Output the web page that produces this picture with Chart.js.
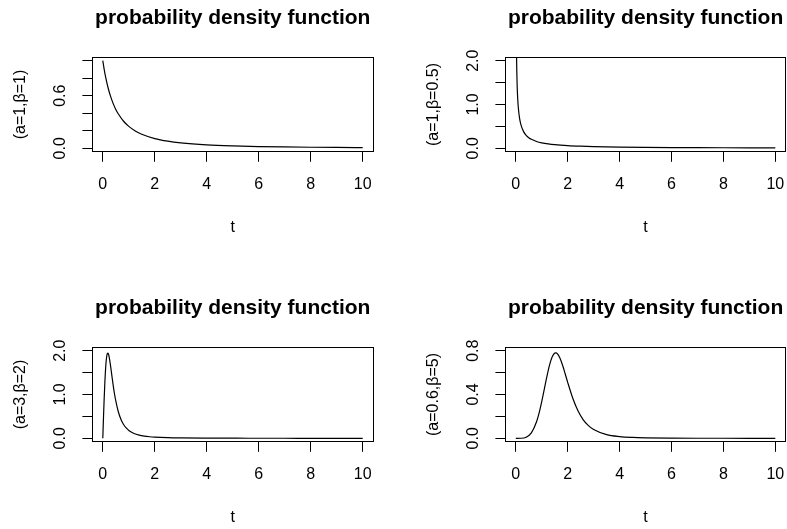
<!DOCTYPE html>
<html>
<head>
<meta charset="utf-8">
<script src="https://cdn.jsdelivr.net/npm/chart.js@4.4.1/dist/chart.umd.min.js"></script>
<style>
  html, body { margin: 0; padding: 0; background: #fff; overflow: hidden; }
  #wrap { position: relative; width: 787px; height: 529px; }
  canvas { position: absolute; }
</style>
</head>
<body>
<div id="wrap">
  <canvas id="chartPdf1" width="413" height="290" style="left:0px;top:0px"></canvas>
  <canvas id="chartPdf2" width="374" height="290" style="left:413px;top:0px"></canvas>
  <canvas id="chartPdf3" width="413" height="239" style="left:0px;top:290px"></canvas>
  <canvas id="chartPdf4" width="374" height="239" style="left:413px;top:290px"></canvas>
</div>
<script>
// values
var chartTitle = 'probability density function';
var xTitle = 't';
var xTicks = [0, 2, 4, 6, 8, 10];
var xTickLabels = ['0', '2', '4', '6', '8', '10'];

// (a=1, b=1)
var t1 = [0, 0.05, 0.1, 0.2, 0.3, 0.4, 0.5, 0.6, 0.8, 1, 1.25, 1.5, 2, 2.5, 3, 4, 5, 6, 7, 8, 9, 10];
var pdf1 = [1, 0.907, 0.826, 0.694, 0.592, 0.510, 0.444, 0.391, 0.309, 0.25, 0.198, 0.16, 0.111, 0.0816, 0.0625, 0.04, 0.0278, 0.0204, 0.0156, 0.0123, 0.01, 0.0083];
var yTicks1 = [0, 0.2, 0.4, 0.6, 0.8, 1.0];
var yTickLabels1 = ['0.0', '', '', '0.6', '', ''];

// (a=1, b=0.5)
var t2 = [0.01, 0.02, 0.03, 0.05, 0.075, 0.1, 0.15, 0.2, 0.3, 0.4, 0.5, 0.6, 0.8, 1, 1.25, 1.5, 2, 2.5, 3, 4, 5, 6, 7, 8, 9, 10];
var pdf2 = [4.132, 2.714, 2.097, 1.494, 1.125, 0.913, 0.671, 0.534, 0.381, 0.297, 0.243, 0.205, 0.156, 0.125, 0.0997, 0.0825, 0.0607, 0.0475, 0.0387, 0.0278, 0.0214, 0.0172, 0.0142, 0.0121, 0.0104, 0.0091];
var yTicks2 = [0, 0.5, 1, 1.5, 2];
var yTickLabels2 = ['0.0', '', '1.0', '', '2.0'];

// (a=3, b=2)
var t3 = [0, 0.01, 0.03, 0.05, 0.08, 0.1, 0.125, 0.15, 0.175, 0.2, 0.225, 0.25, 0.3, 0.35, 0.4, 0.45, 0.5, 0.6, 0.7, 0.8, 0.9, 1, 1.2, 1.4, 1.6, 1.8, 2, 2.5, 3, 4, 5, 6, 7, 8, 9, 10];
var pdf3 = [0, 0.180, 0.531, 0.861, 1.287, 1.515, 1.729, 1.867, 1.936, 1.946, 1.911, 1.843, 1.648, 1.425, 1.209, 1.017, 0.852, 0.601, 0.431, 0.315, 0.236, 0.18, 0.111, 0.0725, 0.0498, 0.0356, 0.0263, 0.0137, 0.008, 0.0034, 0.0018, 0.001, 0.0006, 0.0004, 0.0003, 0.0002];
var yTicks3 = [0, 0.5, 1, 1.5, 2];
var yTickLabels3 = ['0.0', '', '1.0', '', '2.0'];

// (a=0.6, b=5)
var t4 = [0, 0.2, 0.4, 0.6, 0.8, 0.9, 1, 1.1, 1.2, 1.3, 1.4, 1.5, 1.55, 1.6, 1.7, 1.8, 1.9, 2, 2.2, 2.4, 2.6, 2.8, 3, 3.5, 4, 4.5, 5, 6, 7, 8, 9, 10];
var pdf4 = [0, 0.0006, 0.0099, 0.0498, 0.151, 0.233, 0.335, 0.450, 0.566, 0.669, 0.743, 0.778, 0.780, 0.773, 0.733, 0.669, 0.592, 0.511, 0.363, 0.249, 0.169, 0.116, 0.0796, 0.0333, 0.0153, 0.0076, 0.0041, 0.0014, 0.0005, 0.0002, 0.0001, 0.0001];
var yTicks4 = [0, 0.2, 0.4, 0.6, 0.8];
var yTickLabels4 = ['0.0', '', '0.4', '', '0.8'];

var panels = [
    { id: 'chartPdf1', t: t1, pdf: pdf1, ymin: -0.0397, ymax: 1.0397, yTicks: yTicks1, yLabels: yTickLabels1, yTitle: '(a=1,\u03b2=1)', right: 39.9, bottom: 53.2 },
    { id: 'chartPdf2', t: t2, pdf: pdf2, ymin: -0.08, ymax: 2.08, yTicks: yTicks2, yLabels: yTickLabels2, yTitle: '(a=1,\u03b2=0.5)', right: 1.3, bottom: 53.2 },
    { id: 'chartPdf3', t: t3, pdf: pdf3, ymin: -0.08, ymax: 2.08, yTicks: yTicks3, yLabels: yTickLabels3, yTitle: '(a=3,\u03b2=2)', right: 39.9, bottom: 2.2 },
    { id: 'chartPdf4', t: t4, pdf: pdf4, ymin: -0.032, ymax: 0.832, yTicks: yTicks4, yLabels: yTickLabels4, yTitle: '(a=0.6,\u03b2=5)', right: 1.3, bottom: 2.2 }
];

// same rounding Chart.js uses for its 1px axis lines
function crisp(v) { return Math.round(v - 0.5) + 0.5; }

// box round the plot region, like R's box()
var plotBox = {
    id: 'plotBox',
    afterDraw: function(chart) {
        var a = chart.chartArea, ctx = chart.ctx;
        var l = crisp(a.left), r = crisp(a.right), t = crisp(a.top), b = crisp(a.bottom);
        ctx.save();
        ctx.strokeStyle = '#000';
        ctx.lineWidth = 1;
        ctx.strokeRect(l, t, r - l, b - t);
        ctx.restore();
    }
};

Chart.defaults.font.family = '"Liberation Sans", Arial, sans-serif';
Chart.defaults.color = '#000';

// fixed axis sizes, no extra room for overhanging labels
function fixSize(w, h) {
    return function(scale) {
        if (w !== null) scale.width = w;
        if (h !== null) scale.height = h;
        scale.paddingLeft = 0;
        scale.paddingRight = 0;
        scale.paddingTop = 0;
        scale.paddingBottom = 0;
    };
}

function drawPanel(p) {
    var points = p.t.map(function(v, i) { return { x: v, y: p.pdf[i] }; });
    var axisGrid = { drawOnChartArea: false, drawTicks: true, tickLength: 10, color: '#000', lineWidth: 1 };

    new Chart(document.getElementById(p.id), {
        type: 'line',
        data: {
            datasets: [{
                data: points,
                borderColor: '#000',
                borderWidth: 1.2,
                pointRadius: 0,
                fill: false,
                cubicInterpolationMode: 'monotone'
            }]
        },
        plugins: [plotBox],
        options: {
            responsive: false,
            animation: false,
            devicePixelRatio: 1,
            layout: { padding: { left: 0, top: 0, right: p.right, bottom: p.bottom } },
            plugins: {
                legend: { display: false },
                tooltip: { enabled: false },
                title: {
                    display: true,
                    text: chartTitle,
                    fullSize: false,
                    font: { size: 21, weight: 'bold' },
                    padding: { top: 5.4, bottom: 26.6 }
                }
            },
            scales: {
                x: {
                    type: 'linear',
                    min: -0.4,
                    max: 10.4,
                    afterBuildTicks: function(scale) {
                        scale.ticks = xTicks.map(function(v) { return { value: v }; });
                    },
                    afterFit: fixSize(null, 85),
                    ticks: {
                        autoSkip: false,
                        maxRotation: 0,
                        padding: 13.6,
                        font: { size: 16 },
                        callback: function(value) { return xTickLabels[xTicks.indexOf(value)]; }
                    },
                    grid: axisGrid,
                    border: { display: true, color: '#000', width: 1 },
                    title: { display: true, text: xTitle, font: { size: 16 }, padding: { top: 0, bottom: 0 } }
                },
                y: {
                    type: 'linear',
                    min: p.ymin,
                    max: p.ymax,
                    afterBuildTicks: function(scale) {
                        scale.ticks = p.yTicks.map(function(v) { return { value: v }; });
                    },
                    afterFit: fixSize(92.4, null),
                    ticks: {
                        autoSkip: false,
                        minRotation: 90,
                        maxRotation: 90,
                        crossAlign: 'center',
                        padding: 10.3,
                        font: { size: 16 },
                        callback: function(value) { return p.yLabels[p.yTicks.indexOf(value)]; }
                    },
                    grid: axisGrid,
                    border: { display: true, color: '#000', width: 1 },
                    title: { display: true, text: p.yTitle, font: { size: 16 }, padding: { top: 11.2, bottom: 0 } }
                }
            }
        }
    });
}

panels.forEach(drawPanel);
</script>
</body>
</html>
